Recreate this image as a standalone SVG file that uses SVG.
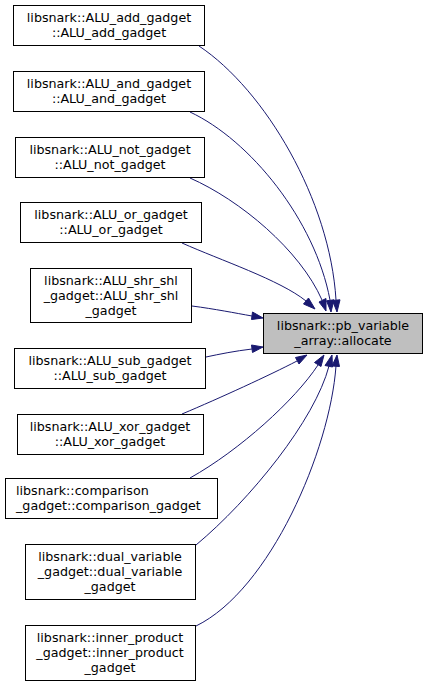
<svg xmlns="http://www.w3.org/2000/svg" width="428" height="686" viewBox="0 0 428 686">
<style>
  .n rect { fill: #ffffff; stroke: #000000; stroke-width: 1; }
  .t rect { fill: #bfbfbf; stroke: #000000; stroke-width: 1; }
  text { font-family: "DejaVu Sans", "Liberation Sans", sans-serif; font-size: 12.7px; fill: #000000; text-anchor: middle; }
  .e path { fill: none; stroke: #191970; stroke-width: 1; }
  .e polygon { fill: #191970; stroke: #191970; stroke-width: 1; }
</style>
<rect width="428" height="686" fill="#ffffff"/>
<g id="edges" class="e">
  <path d="M199,46 C265,90 330,200 336,300"/>
  <polygon points="337,312 332.5,300.5 340,299.8"/>
  <path d="M190,112 C250,140 315,220 330,300"/>
  <polygon points="331,312 326.5,300.8 334,299.8"/>
  <path d="M190,178 C240,200 300,250 322,300"/>
  <polygon points="326,311 319,302 326,298.5"/>
  <path d="M182,243 C220,260 280,280 306,301"/>
  <polygon points="315,309 303.5,304 308.5,298"/>
  <path d="M192,306 C215,309 235,313 252,316"/>
  <polygon points="263,318 251.5,319.5 252.5,312"/>
  <path d="M206,357 C220,354 235,351 252,349"/>
  <polygon points="263,347 252.5,352.5 251.5,345"/>
  <path d="M182,414 C220,398 270,375 297,361"/>
  <polygon points="307,355 299,364 295.5,357.5"/>
  <path d="M190,478 C240,450 295,400 318,365"/>
  <polygon points="324,355 321,366.5 314.5,362.5"/>
  <path d="M196,545 C250,500 315,420 329,366"/>
  <polygon points="332,355 332.5,367 325,365.5"/>
  <path d="M196,626 C270,590 330,450 336,366"/>
  <polygon points="337,355 339.5,366.5 332,366"/>
</g>
<g id="node_add" class="n">
  <rect x="13.5" y="5.5" width="191" height="40"/>
  <text x="109" y="22">libsnark::ALU_add_gadget</text>
  <text x="109" y="37">::ALU_add_gadget</text>
</g>
<g id="node_and" class="n">
  <rect x="13.5" y="71.5" width="191" height="40"/>
  <text x="109" y="88">libsnark::ALU_and_gadget</text>
  <text x="109" y="103">::ALU_and_gadget</text>
</g>
<g id="node_not" class="n">
  <rect x="15.5" y="137.5" width="189" height="40"/>
  <text x="110" y="154">libsnark::ALU_not_gadget</text>
  <text x="110" y="169">::ALU_not_gadget</text>
</g>
<g id="node_or" class="n">
  <rect x="20.5" y="202.5" width="181" height="40"/>
  <text x="111" y="219">libsnark::ALU_or_gadget</text>
  <text x="111" y="234">::ALU_or_gadget</text>
</g>
<g id="node_shr_shl" class="n">
  <rect x="30.5" y="268.5" width="161" height="54"/>
  <text x="111" y="285">libsnark::ALU_shr_shl</text>
  <text x="111" y="300">_gadget::ALU_shr_shl</text>
  <text x="111" y="315">_gadget</text>
</g>
<g id="node_sub" class="n">
  <rect x="14.5" y="348.5" width="191" height="40"/>
  <text x="110" y="365">libsnark::ALU_sub_gadget</text>
  <text x="110" y="380">::ALU_sub_gadget</text>
</g>
<g id="node_xor" class="n">
  <rect x="17.5" y="414.5" width="186" height="40"/>
  <text x="110" y="431">libsnark::ALU_xor_gadget</text>
  <text x="110" y="446">::ALU_xor_gadget</text>
</g>
<g id="node_comparison" class="n">
  <rect x="5.5" y="478.5" width="212" height="40"/>
  <text x="16" y="495" style="text-anchor:start">libsnark::comparison</text>
  <text x="16" y="510" style="text-anchor:start">_gadget::comparison_gadget</text>
</g>
<g id="node_dual_variable" class="n">
  <rect x="25.5" y="544.5" width="170" height="55"/>
  <text x="110" y="561">libsnark::dual_variable</text>
  <text x="110" y="576">_gadget::dual_variable</text>
  <text x="110" y="591">_gadget</text>
</g>
<g id="node_inner_product" class="n">
  <rect x="25.5" y="625.5" width="170" height="55"/>
  <text x="110" y="642">libsnark::inner_product</text>
  <text x="110" y="657">_gadget::inner_product</text>
  <text x="110" y="672">_gadget</text>
</g>
<g id="node_allocate" class="t">
  <rect x="263.5" y="313.5" width="159" height="40"/>
  <text x="343" y="330">libsnark::pb_variable</text>
  <text x="343" y="345">_array::allocate</text>
</g>
</svg>
